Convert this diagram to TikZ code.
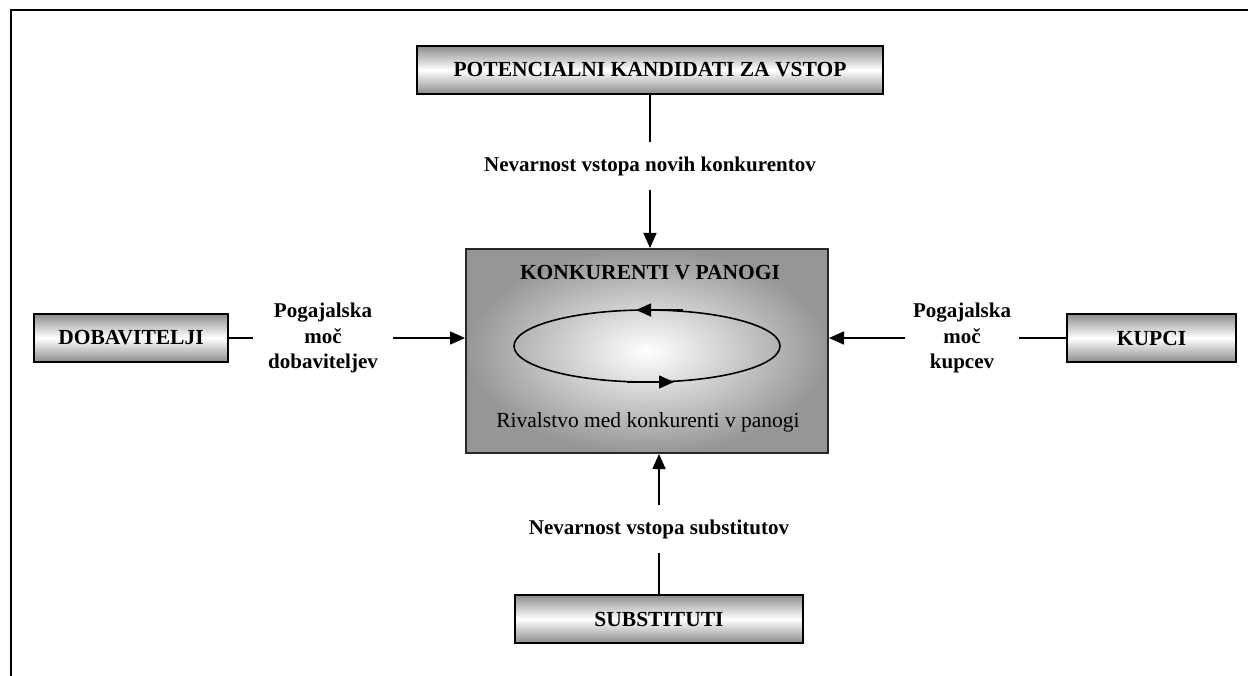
\documentclass[tikz,border=0pt]{standalone}
\usepackage{fontspec}
\setmainfont{Liberation Serif}
\usetikzlibrary{arrows.meta,shadings}
\tikzset{
  x=1pt,y=-1pt,
  every node/.style={font=\fontsize{21.5}{25}\selectfont},
  forcebox/.style={draw=black,line width=2.4pt,
    top color=gray!90,bottom color=gray!90,middle color=white,
    minimum height=48pt,inner sep=0pt,font=\fontsize{21.5}{25}\selectfont\bfseries},
  centerbox/.style={draw=black!85,line width=2pt,
    inner color=white,outer color={rgb,255:red,150;green,150;blue,150},
    shading=radial,inner sep=0pt},
  lbl/.style={inner sep=0pt,align=center,font=\fontsize{21}{25.5}\selectfont\bfseries},
  conn/.style={line width=1.6pt,draw=black},
  arr/.style={conn,-{Triangle[length=15pt,width=13pt]}},
  loop/.style={line width=1.6pt,draw=black},
}
\begin{document}
\begin{tikzpicture}
\useasboundingbox (0,0) rectangle (1248,676);
% outer frame (partial)
\draw[line width=2.8pt,line cap=rect] (11,676) -- (11,10) -- (1250,10);

% boxes
\node[forcebox,minimum width=466pt] (pot) at (650,70) {POTENCIALNI KANDIDATI ZA VSTOP};
\node[forcebox,minimum width=194pt] (dob) at (131,338) {DOBAVITELJI};
\node[forcebox,minimum width=169pt] (kup) at (1151.5,338) {KUPCI};
\node[forcebox,minimum width=288pt] (sub) at (659,619) {SUBSTITUTI};

% central box
\node[centerbox,minimum width=362pt,minimum height=204pt] (comp) at (647,351) {};
\node[font=\fontsize{21.5}{25}\selectfont\bfseries,inner sep=0pt] (comptitle) at (650,273) {KONKURENTI V PANOGI};
\node[font=\fontsize{21.5}{25}\selectfont,inner sep=0pt] (rival) at (648,422) {Rivalstvo med konkurenti v panogi};

% rivalry loop
\draw[loop] (647,346) ellipse [x radius=133, y radius=36];
\coordinate (lt1) at (683,310);
\coordinate (lt2) at (636,310);
\coordinate (lb1) at (627,382);
\coordinate (lb2) at (674,382);
\draw[arr] (lt1) -- (lt2);
\draw[arr] (lb1) -- (lb2);

% labels
\node[lbl,minimum height=48pt,minimum width=370pt] (ltop) at (650,166) {Nevarnost vstopa novih konkurentov};
\node[lbl,minimum height=48pt,minimum width=300pt] (lbot) at (659,529) {Nevarnost vstopa substitutov};
\node[lbl,minimum width=140pt] (lleft) at (323,338) {Pogajalska\\moč\\dobaviteljev};
\node[lbl,minimum width=113pt] (lright) at (962,338) {Pogajalska\\moč\\kupcev};

% connectors
\draw[conn] (pot.south) -- (pot.south |- ltop.north);
\draw[arr] (ltop.south) -- (ltop.south |- comp.north);

\draw[conn] (sub.north) -- (sub.north |- lbot.south);
\draw[arr] (lbot.north) -- (lbot.north |- comp.south);

\draw[conn] (dob.east) -- (lleft.west |- dob.east);
\draw[arr] (lleft.east |- dob.east) -- (comp.west |- dob.east);

\draw[conn] (kup.west) -- (lright.east |- kup.west);
\draw[arr] (lright.west |- kup.west) -- (comp.east |- kup.west);
\end{tikzpicture}
\end{document}
